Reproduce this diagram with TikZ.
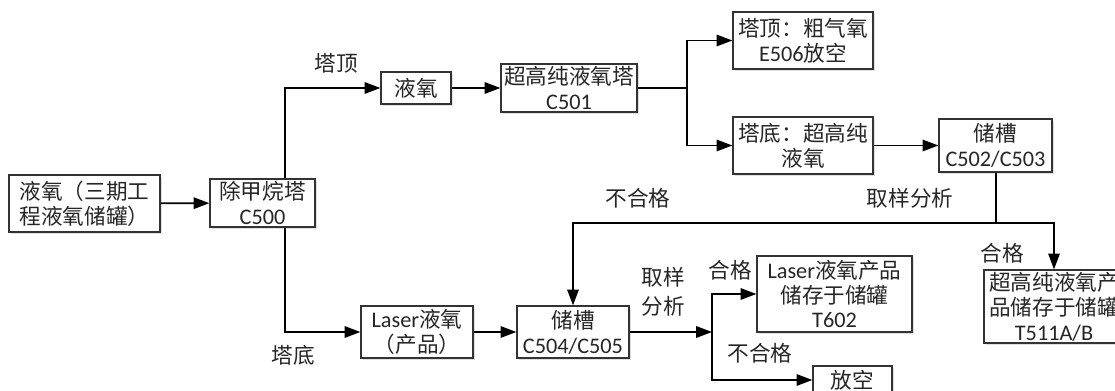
\documentclass[tikz,border=0pt]{standalone}
\usepackage{fontspec}
\setmainfont{Carlito}[Scale=1.03]
\newfontfamily\cjk{Noto Sans CJK SC}
\usepackage{tikz}
\usetikzlibrary{arrows.meta,shadows}
\newcommand{\lat}[1]{{\rmfamily#1}}

\begin{document}
\begin{tikzpicture}[
    x=.02cm,y=-.02cm,
    every node/.style={text=black!85,font=\cjk\fontsize{12.3}{14.2}\selectfont},
    b/.style={draw=black!80,line width=.7pt,fill=white,align=center,inner sep=1pt,
      drop shadow={shadow xshift=1.2pt,shadow yshift=-1.2pt,fill=black!25}},
    ln/.style={line width=1pt,black},
    ar/.style={ln,-{Triangle[length=9pt,width=6.5pt]}}
  ]
    \useasboundingbox (0,0) rectangle (1115,391);
    \clip (0,0) rectangle (1115,391);
    % boxes
    \node[b,minimum width=3.02cm,minimum height=1.14cm] (src) at (84.5,203.5) {液氧（三期工\\程液氧储罐）};
    \node[b,minimum width=2.1cm,minimum height=.96cm] (c500) at (262.5,203) {除甲烷塔\\\lat{C500}};
    \node[b,minimum width=1.4cm,minimum height=.64cm] (lox) at (416,88) {液氧};
    \node[b,minimum width=2.72cm,minimum height=.96cm] (c501) at (569,88) {超高纯液氧塔\\\lat{C501}};
    \node[b,minimum width=2.8cm,minimum height=1.14cm] (e506) at (803,40.5) {塔顶：粗气氧\\\lat{E506}放空};
    \node[b,minimum width=2.8cm,minimum height=1.14cm] (btm) at (803,145.5) {塔底：超高纯\\液氧};
    \node[b,minimum width=2.26cm,minimum height=1.06cm] (c502) at (995.5,145.5) {储槽\\\lat{C502/C503}};
    \node[b,minimum width=2.8cm,minimum height=1.46cm] (t511) at (1054,306.5) {超高纯液氧产\\品储存于储罐\\\lat{T511A/B}};
    \node[b,minimum width=2.24cm,minimum height=1.04cm] (laser) at (417,332) {\lat{Laser}液氧\\（产品）};
    \node[b,minimum width=2.24cm,minimum height=1.04cm] (c504) at (573,332) {储槽\\\lat{C504/C505}};
    \node[b,minimum width=3.1cm,minimum height=1.52cm] (t602) at (834.5,294) {\lat{Laser}液氧产品\\储存于储罐\\\lat{T602}};
    \node[b,minimum width=1.58cm,minimum height=.56cm] (vent) at (852.5,380) {放空};
    % junctions
    \coordinate (up) at (285,88); \coordinate (dn) at (285,332);
    \coordinate (s1) at (687,88); \coordinate (s2) at (996,223); \coordinate (s3) at (712,332);
    % connectors
    \draw[ar] (src) -- (c500);
    \draw[ar] (c500.north -| up) |- (lox);
    \draw[ar] (c500.south -| dn) |- (laser);
    \draw[ar] (lox) -- (c501);
    \draw[ln] (c501) -- (s1);
    \draw[ar] (s1) |- (e506);
    \draw[ar] (s1) |- (btm);
    \draw[ar] (btm) -- (c502);
    \draw[ln] (c502.south -| s2) -- (s2);
    \draw[ar] (s2) -| (t511);
    \draw[ar] (s2) -| (c504);
    \draw[ar] (laser) -- (c504);
    \draw[ar] (c504) -- (s3);
    \draw[ar] (s3) |- (t602);
    \draw[ar] (s3) |- (vent);
    % labels
    \node (ltop) at (336,63) {塔顶};
    \node (lbot) at (293,355) {塔底};
    \node (lfail1) at (638,198) {不合格};
    \node (lsam1) at (910,198) {取样分析};
    \node (lpass1) at (1002,253) {合格};
    \node[align=center] (lsam2) at (663,292) {取样\\[2pt]分析};
    \node (lpass2) at (730,270) {合格};
    \node (lfail2) at (760,353) {不合格};
\end{tikzpicture}
\end{document}
